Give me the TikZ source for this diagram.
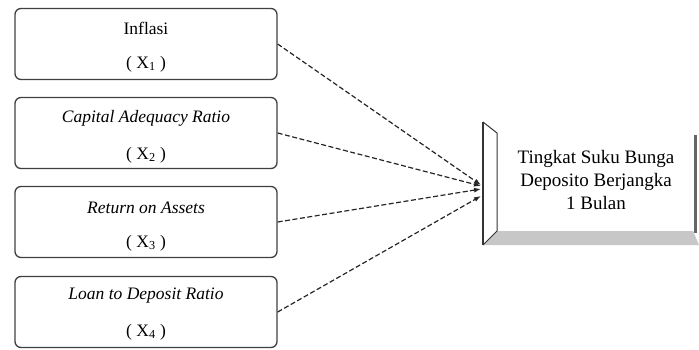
\documentclass[tikz,border=0pt]{standalone}
\usepackage{fontspec}
\setmainfont{Liberation Serif}
\usetikzlibrary{arrows.meta}
\tikzset{
  varbox/.style={draw=black!75, line width=1.3pt, rounded corners=6pt, minimum width=262pt, minimum height=71pt, inner sep=0pt},
  vtext/.style={font=\fontsize{17.5}{20}\selectfont, inner sep=0pt},
  link/.style={draw=black!85, line width=1.2pt, dash pattern=on 5pt off 2.5pt, -{Latex[length=7pt,width=5pt]}},
}
\begin{document}
\begin{tikzpicture}[x=1pt,y=-1pt]
\useasboundingbox (0,0) rectangle (699,349);
% left boxes
\node[varbox] (b1) at (146,44) {};
\node[varbox] (b2) at (146,133) {};
\node[varbox] (b3) at (146,222) {};
\node[varbox] (b4) at (146,312) {};
\node[vtext] (t1) at (146,28) {Inflasi};
\node[vtext] (x1) at (146,64) {( X\textsubscript{1} )};
\node[vtext] (t2) at (146,118) {\itshape Capital Adequacy Ratio};
\node[vtext] (x2) at (146,155) {( X\textsubscript{2} )};
\node[vtext] (t3) at (146,208) {\itshape Return on Assets};
\node[vtext] (x3) at (146,243) {( X\textsubscript{3} )};
\node[vtext] (t4) at (146,296) {\itshape Loan to Deposit Ratio};
\node[vtext] (x4) at (146,332) {( X\textsubscript{4} )};
% bevel target
\fill[black!22] (483,245) -- (699,245) -- (693,231) -- (497,231) -- cycle;
\draw[black!80, line width=1.2pt] (483,122) -- (483,245);
\draw[black!80, line width=1pt] (483,122) -- (497,133) -- (497,231) -- (483,245);
\draw[black!60, line width=3pt] (695,135) -- (695,233);
\coordinate (tgt) at (483,186);
\node[inner sep=0pt, align=center, font=\fontsize{19}{23}\selectfont] (y) at (596,180) {Tingkat Suku Bunga\\Deposito Berjangka\\1 Bulan};
% connectors
\coordinate (e1) at (481,185);
\coordinate (e2) at (481,186);
\coordinate (e3) at (481,189);
\coordinate (e4) at (481,196);
\draw[link] (b1.east) -- (e1);
\draw[link] (b2.east) -- (e2);
\draw[link] (b3.east) -- (e3);
\draw[link] (b4.east) -- (e4);
\end{tikzpicture}
\end{document}
